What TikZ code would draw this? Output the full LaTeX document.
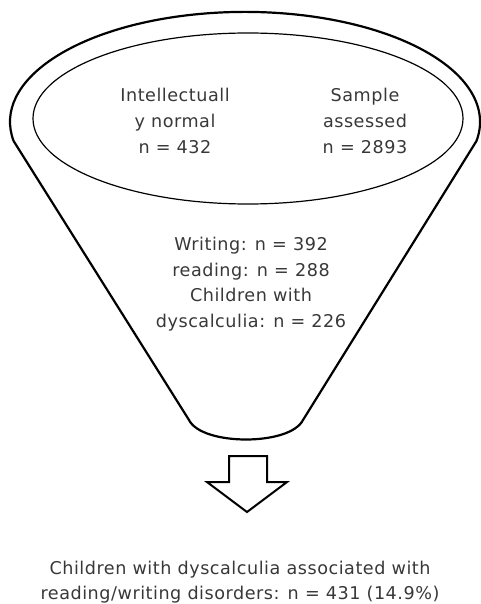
\documentclass[tikz,border=0pt]{standalone}
\usepackage{fontspec}
\setmainfont{DejaVu Sans}[LetterSpace=3]
\begin{document}
\begin{tikzpicture}[x=1pt,y=-1pt,
  txt/.style={font=\fontsize{17.6}{25.7}\selectfont, text=black!78, align=center, inner sep=0pt},
  funnel/.style={draw=black, line width=2.2pt, line join=round},
  inner/.style={draw=black, line width=1.2pt},
  bigarrow/.style={draw=black, line width=2pt, line join=miter}]
\useasboundingbox (0,0) rectangle (481,604);
% funnel outline
\draw[funnel] (13.6,141) arc[start angle=170, end angle=370, x radius=235, y radius=110]
  -- (303,420) .. controls (290,446) and (202,446) .. (189,420) -- cycle;
% inner ellipse
\draw[inner] (248,118.5) ellipse [x radius=215, y radius=85.5];
% texts
\node[txt] (left) at (175,121) {Intellectuall\\y normal\\n = 432};
\node[txt] (right) at (365,121) {Sample\\assessed\\n = 2893};
\node[txt] (mid) at (251,284) {Writing: n = 392\\reading: n = 288\\Children with\\dyscalculia: n = 226};
% arrow
\draw[bigarrow] (229,456) -- (267,456) -- (267,482) -- (287,482) -- (247,512) -- (207,482) -- (229,482) -- cycle;
\node[txt] (result) at (240,582) {Children with dyscalculia associated with\\reading/writing disorders: n = 431 (14.9\%)};
\end{tikzpicture}
\end{document}
